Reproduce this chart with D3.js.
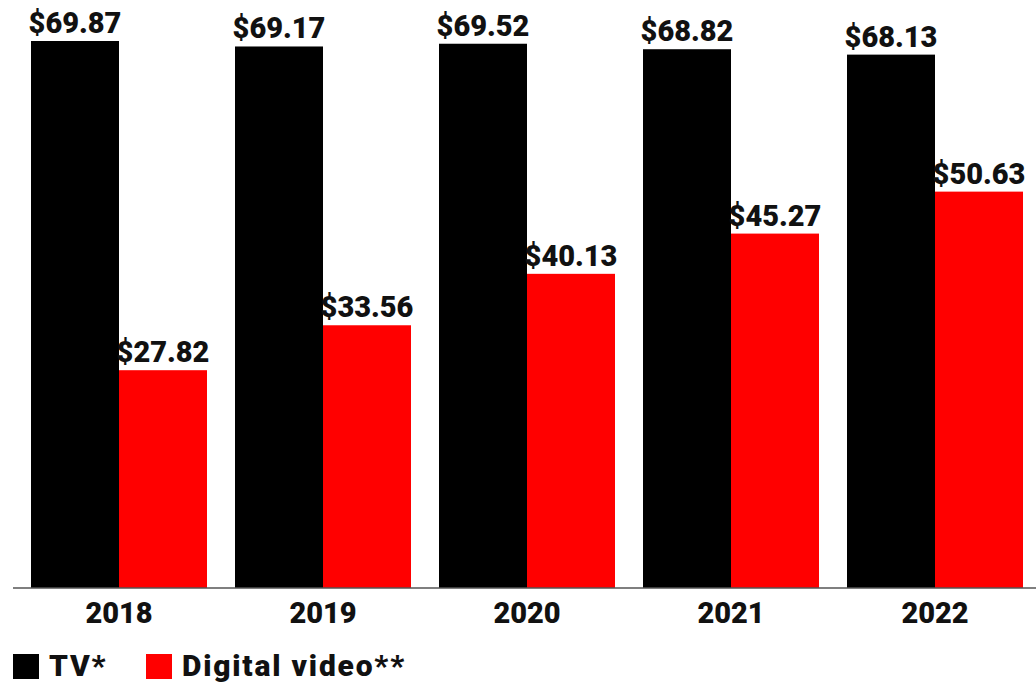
<!DOCTYPE html>
<html>
<head>
<meta charset="utf-8">
<script src="https://cdn.jsdelivr.net/npm/d3@7"></script>
<style>
body{margin:0;background:#fff;}
svg{display:block;font-family:Roboto,"Open Sans",sans-serif;font-weight:900;}
</style>
</head>
<body>
<div id="viz"></div>
<script>
var years = ["2018","2019","2020","2021","2022"];
var tvValues = [69.87,69.17,69.52,68.82,68.13];
var videoValues = [27.82,33.56,40.13,45.27,50.63];
var seriesNames = ["TV*","Digital video**"];
var seriesColors = ["#000000","#ff0000"];

var width = 1036, height = 683;
var baseY = 588, topY = 41;
var svg = d3.select("#viz").append("svg")
	.attr("width",width)
	.attr("height",height);

var x0 = d3.scaleBand()
	.domain(years)
	.range([17,1037])
	.paddingInner(28/204)
	.paddingOuter(14/204);
var x1 = d3.scaleBand()
	.domain([0,1])
	.range([0,x0.bandwidth()]);
var y = d3.scaleLinear()
	.domain([0,69.87])
	.range([baseY,topY]);

var rows = years.map(function(yr,i){
	return {year:yr,vals:[tvValues[i],videoValues[i]]};
});

var groups = svg.selectAll(".grp")
	.data(rows)
	.enter()
	.append("g")
	.attr("class","grp")
	.attr("transform",function(d){return "translate("+x0(d.year)+",0)";});

groups.selectAll("rect")
	.data(function(d){return d.vals;})
	.enter()
	.append("rect")
	.attr("x",function(d,i){return x1(i);})
	.attr("y",function(d){return y(d);})
	.attr("width",x1.bandwidth())
	.attr("height",function(d){return baseY-y(d);})
	.style("fill",function(d,i){return seriesColors[i];});

groups.selectAll("text.val")
	.data(function(d){return d.vals;})
	.enter()
	.append("text")
	.attr("class","val")
	.attr("x",function(d,i){return x1(i)+x1.bandwidth()/2;})
	.attr("y",function(d){return y(d)-8;})
	.attr("text-anchor","middle")
	.style("font-size","29px")
	.style("fill","#111")
	.text(function(d){return "$"+d.toFixed(2);});

// baseline
svg.append("line")
	.attr("x1",13).attr("x2",width)
	.attr("y1",baseY).attr("y2",baseY)
	.style("stroke","#555")
	.style("stroke-width",1.5);

var xAxis = svg.append("g")
	.attr("transform","translate(0,"+baseY+")")
	.call(d3.axisBottom(x0).tickSize(0).tickPadding(35));
xAxis.select(".domain").remove();
xAxis.selectAll("text")
	.attr("dy",0)
	.style("font-size","29px")
	.style("font-family","Roboto,sans-serif")
	.style("font-weight","900")
	.style("fill","#111");

// legend
var legendX = [13,146];
var legend = svg.selectAll(".leg")
	.data(seriesNames)
	.enter()
	.append("g")
	.attr("class","leg")
	.attr("transform",function(d,i){return "translate("+legendX[i]+",654)";});
legend.append("rect")
	.attr("width",26).attr("height",25)
	.style("fill",function(d,i){return seriesColors[i];});
legend.append("text")
	.attr("x",36).attr("y",22)
	.style("font-size","30px")
	.style("letter-spacing","1.8px")
	.style("fill","#111")
	.text(function(d){return d;});
</script>
</body>
</html>
